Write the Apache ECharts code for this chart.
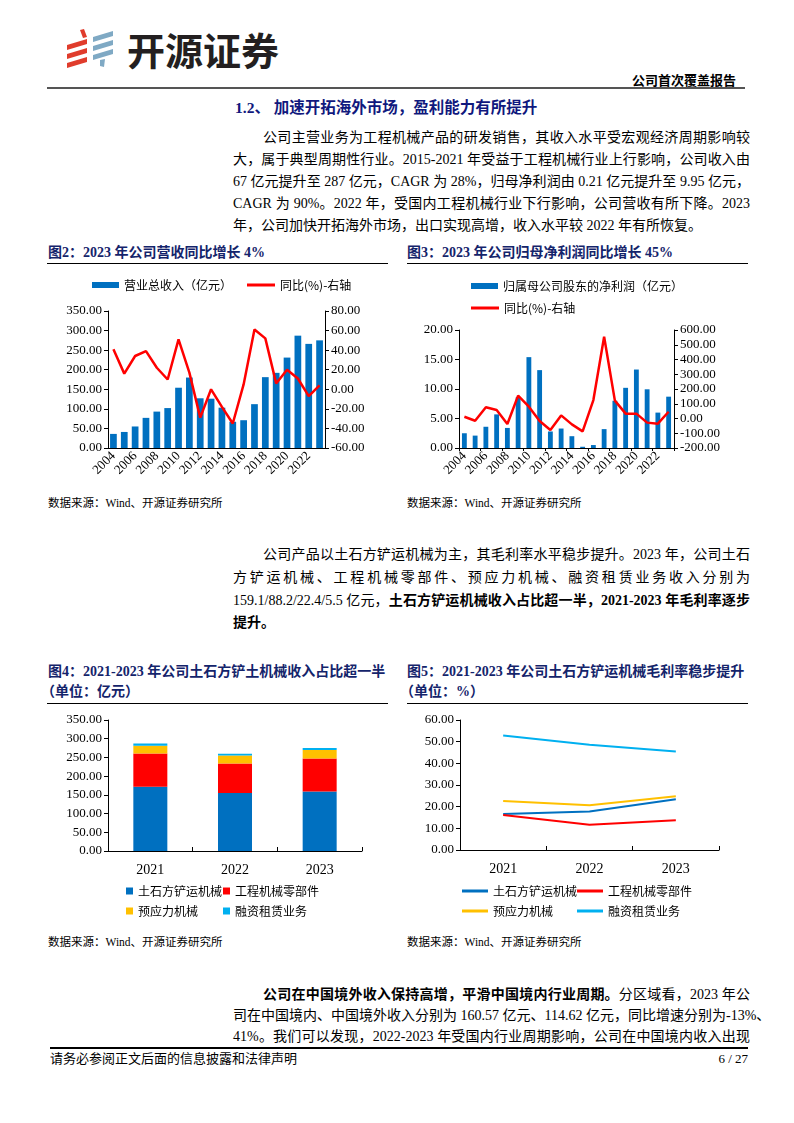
<!DOCTYPE html>
<html><head><meta charset="utf-8">
<script src="https://cdn.jsdelivr.net/npm/echarts/dist/echarts.min.js"></script>
<style>
body{margin:0;background:#fff;}
#page{position:relative;width:794px;height:1123px;overflow:hidden;background:#fff;}
.t{position:absolute;white-space:nowrap;font-family:"Liberation Serif","Noto Sans CJK SC",serif;color:#000;}
.ln{left:233px;width:517px;font-size:14px;height:22px;line-height:22px;text-align:justify;text-align-last:justify;}
.ind{left:263px;width:487px;}
.last{text-align:left;text-align-last:left;}
.ttl{font-size:14px;font-weight:bold;color:#14246b;height:20px;line-height:20px;}
.src{font-size:11.5px;height:16px;line-height:16px;}
.rule{position:absolute;background:#000;}
.chart{position:absolute;}
b{font-weight:bold;}
</style></head>
<body><div id="page">
<svg style="position:absolute;left:60px;top:26px" width="60" height="50" viewBox="60 26 60 50">
 <polygon points="80,30 84,29 87,37 83,38" fill="#e03c2c"/>
 <polygon points="67,45 87,39 87,44 67,50" fill="#e03c2c"/>
 <polygon points="67,54 87,48 87,53 67,59" fill="#e03c2c"/>
 <polygon points="67,63 87,57 87,62 67,68" fill="#e03c2c"/>
 <polygon points="93,37 113,31 113,36 93,42" fill="#7fa9c4"/>
 <polygon points="93,46 113,40 113,45 93,51" fill="#7fa9c4"/>
 <polygon points="93,55 113,49 113,54 93,60" fill="#7fa9c4"/>
 <polygon points="100,60 105,59 104,67 100,66" fill="#7fa9c4"/>
</svg>
<div class="t" style="left:127px;top:27px;font-size:38px;line-height:44px;font-family:'Noto Sans CJK SC',sans-serif;font-weight:bold;color:#231f20;">开源证券</div>
<div class="t" style="left:632px;top:72px;font-size:13px;line-height:18px;font-weight:bold;">公司首次覆盖报告</div>
<div class="rule" style="left:47px;top:87px;width:698px;height:2px;background:#555;"></div>

<div class="t" style="left:235px;top:97px;font-size:15.5px;line-height:22px;font-weight:bold;color:#10187d;">1.2、 加速开拓海外市场，盈利能力有所提升</div>

<div class="t ln ind" style="top:127px;">公司主营业务为工程机械产品的研发销售，其收入水平受宏观经济周期影响较</div>
<div class="t ln" style="top:149px;">大，属于典型周期性行业。2015-2021 年受益于工程机械行业上行影响，公司收入由</div>
<div class="t ln" style="top:171px;">67 亿元提升至 287 亿元，CAGR 为 28%，归母净利润由 0.21 亿元提升至 9.95 亿元，</div>
<div class="t ln" style="top:193px;">CAGR 为 90%。2022 年，受国内工程机械行业下行影响，公司营收有所下降。2023</div>
<div class="t ln last" style="top:215px;">年，公司加快开拓海外市场，出口实现高增，收入水平较 2022 年有所恢复。</div>

<div class="t ttl" style="left:48px;top:243px;">图2：2023 年公司营收同比增长 4%</div>
<div class="rule" style="left:47px;top:263px;width:341px;height:1px;"></div>
<div class="t ttl" style="left:407px;top:243px;">图3：2023 年公司归母净利润同比增长 45%</div>
<div class="rule" style="left:407px;top:263px;width:341px;height:1px;"></div>

<div id="c2" class="chart" style="left:40px;top:270px;width:350px;height:225px;"></div>
<div id="c3" class="chart" style="left:400px;top:270px;width:360px;height:225px;"></div>

<div class="t src" style="left:48px;top:495px;">数据来源：Wind、开源证券研究所</div>
<div class="t src" style="left:407px;top:495px;">数据来源：Wind、开源证券研究所</div>

<div class="t ln ind" style="top:544px;">公司产品以土石方铲运机械为主，其毛利率水平稳步提升。2023 年，公司土石</div>
<div class="t ln" style="top:567px;">方铲运机械、工程机械零部件、预应力机械、融资租赁业务收入分别为</div>
<div class="t ln" style="top:590px;">159.1/88.2/22.4/5.5 亿元，<b>土石方铲运机械收入占比超一半，2021-2023 年毛利率逐步</b></div>
<div class="t ln last" style="top:612px;"><b>提升。</b></div>

<div class="t ttl" style="left:48px;top:662px;">图4：2021-2023 年公司土石方铲土机械收入占比超一半</div>
<div class="t ttl" style="left:41px;top:682px;">（单位：亿元）</div>
<div class="rule" style="left:47px;top:703px;width:341px;height:1px;"></div>
<div class="t ttl" style="left:407px;top:662px;">图5：2021-2023 年公司土石方铲运机械毛利率稳步提升</div>
<div class="t ttl" style="left:400px;top:682px;">（单位：%）</div>
<div class="rule" style="left:407px;top:703px;width:341px;height:1px;"></div>

<div id="c4" class="chart" style="left:40px;top:705px;width:350px;height:225px;"></div>
<div id="c5" class="chart" style="left:400px;top:705px;width:360px;height:225px;"></div>

<div class="t src" style="left:48px;top:934px;">数据来源：Wind、开源证券研究所</div>
<div class="t src" style="left:407px;top:934px;">数据来源：Wind、开源证券研究所</div>

<div class="t ln ind" style="top:984px;"><b>公司在中国境外收入保持高增，平滑中国境内行业周期。</b>分区域看，2023 年公</div>
<div class="t ln" style="top:1005px;">司在中国境内、中国境外收入分别为 160.57 亿元、114.62 亿元，同比增速分别为-13%、</div>
<div class="t ln" style="top:1026px;">41%。我们可以发现，2022-2023 年受国内行业周期影响，公司在中国境内收入出现</div>

<div class="rule" style="left:50px;top:1047px;width:698px;height:1.5px;"></div>
<div class="t" style="left:50px;top:1050px;font-size:13px;line-height:18px;">请务必参阅正文后面的信息披露和法律声明</div>
<div class="t" style="left:698px;top:1050px;width:50px;text-align:right;font-size:13px;line-height:18px;">6 / 27</div>
</div>
<script>
// ---- data ----
const years = ['2004','2005','2006','2007','2008','2009','2010','2011','2012','2013','2014','2015','2016','2017','2018','2019','2020','2021','2022','2023'];
const revenue = [36,41,55,77,93,102,154,180,127,126,103,67,71,112,181,192,231,287,266,275];
const revenueYoY = [41,16,34,39,22,10,51,17,-29,0,-18,-35,5,61,52,6,20,11,-7,4];
const netProfit = [2.5,2.1,3.6,5.7,3.4,8.6,15.4,13.2,2.8,3.3,2.0,0.21,0.5,3.2,8.0,10.2,13.3,9.95,6.0,8.7];
const netProfitYoY = [12,-15,76,58,-37,155,80,-17,-78,21,-40,-87,125,554,121,33,33,-28,-35,46];
const segYears = ['2021','2022','2023'];
const earthmoving = [171.5,155,159.1];
const parts = [89,79,88.2];
const prestress = [21,21,22.4];
const leasing = [5.5,5,5.5];
const gmEarthmoving = [16.6,17.8,23.4];
const gmParts = [16.2,11.7,13.7];
const gmPrestress = [22.6,20.6,24.8];
const gmLeasing = [52.8,48.6,45.5];

const BLUE='#0070C0', RED='#FF0000', YEL='#FFC000', CYAN='#00B0F0';
const axisText = {fontFamily:'Liberation Serif', fontSize:13, color:'#000'};
const legText = {fontFamily:'Noto Sans CJK SC', fontSize:12, color:'#000'};
const fmt2 = v => v.toFixed(2);
const axLine = {show:true, lineStyle:{color:'#000', width:1}};
function valAxis(min,max,interval,extra){
  return Object.assign({type:'value',min:min,max:max,interval:interval,axisLine:axLine,
    axisTick:{show:true,length:4,lineStyle:{color:'#000'}},splitLine:{show:false},
    axisLabel:Object.assign({formatter:fmt2,margin:6},axisText)},extra||{});
}

const c2 = echarts.init(document.getElementById('c2'));
c2.setOption({
  animation:false,
  grid:{left:68,right:65,top:41,bottom:47},
  legend:[
    {data:['营业总收入（亿元）'],left:47,top:4,icon:'rect',itemWidth:27,itemHeight:6,textStyle:legText},
    {data:['同比(%)-右轴'],left:202,top:4,icon:'rect',itemWidth:28,itemHeight:3,textStyle:legText}
  ],
  xAxis:{type:'category',data:years,axisLine:axLine,axisTick:{show:false},
    axisLabel:Object.assign({rotate:45,interval:1,margin:6},axisText)},
  yAxis:[valAxis(0,350,50),valAxis(-60,80,20,{position:'right'})],
  series:[
    {name:'营业总收入（亿元）',type:'bar',data:revenue,barWidth:'62%',itemStyle:{color:BLUE}},
    {name:'同比(%)-右轴',type:'line',yAxisIndex:1,data:revenueYoY,symbol:'none',
      lineStyle:{color:RED,width:2.5},itemStyle:{color:RED}}
  ]
});

const c3 = echarts.init(document.getElementById('c3'));
c3.setOption({
  animation:false,
  grid:{left:59,right:86,top:60,bottom:47},
  legend:[
    {data:['归属母公司股东的净利润（亿元）'],left:66,top:5,icon:'rect',itemWidth:27,itemHeight:6,textStyle:legText},
    {data:['同比(%)-右轴'],left:66,top:27,icon:'rect',itemWidth:28,itemHeight:3,textStyle:legText}
  ],
  xAxis:{type:'category',data:years,axisLine:axLine,axisTick:{show:true,length:3,lineStyle:{color:'#000'}},
    axisLabel:Object.assign({rotate:45,interval:1,margin:6},axisText)},
  yAxis:[valAxis(0,20,5),valAxis(-200,600,100,{position:'right'})],
  series:[
    {name:'归属母公司股东的净利润（亿元）',type:'bar',data:netProfit,barWidth:'45%',itemStyle:{color:BLUE}},
    {name:'同比(%)-右轴',type:'line',yAxisIndex:1,data:netProfitYoY,symbol:'none',
      lineStyle:{color:RED,width:2.5},itemStyle:{color:RED}}
  ]
});

const segNames = ['土石方铲运机械','工程机械零部件','预应力机械','融资租赁业务'];
const segXAxis = {type:'category',data:segYears,axisLine:axLine,
  axisTick:{show:true,inside:true,length:4,lineStyle:{color:'#000'}},
  axisLabel:Object.assign({margin:12},axisText,{fontSize:14})};
function legends(lefts,iconOpts){
  const tops=[175,175,195,195];
  return segNames.map((n,i)=>Object.assign({data:[n],left:lefts[i],top:tops[i],textStyle:legText},iconOpts));
}
const c4 = echarts.init(document.getElementById('c4'));
c4.setOption({
  animation:false,
  grid:{left:68,right:28,top:15,bottom:79},
  legend:legends([81,178,81,178],{icon:'rect',itemWidth:7,itemHeight:7}),
  xAxis:segXAxis,
  yAxis:valAxis(0,350,50),
  series:[
    {name:segNames[0],type:'bar',stack:'s',data:earthmoving,barWidth:34,itemStyle:{color:BLUE}},
    {name:segNames[1],type:'bar',stack:'s',data:parts,itemStyle:{color:RED}},
    {name:segNames[2],type:'bar',stack:'s',data:prestress,itemStyle:{color:YEL}},
    {name:segNames[3],type:'bar',stack:'s',data:leasing,itemStyle:{color:CYAN}}
  ]
});

const c5 = echarts.init(document.getElementById('c5'));
const lineSer = (n,d,c)=>({name:n,type:'line',data:d,symbol:'none',lineStyle:{color:c,width:2},itemStyle:{color:c}});
c5.setOption({
  animation:false,
  grid:{left:60,right:41,top:15,bottom:80},
  legend:legends([57,172,57,172],{icon:'rect',itemWidth:26,itemHeight:3}),
  xAxis:segXAxis,
  yAxis:valAxis(0,60,10),
  series:[
    lineSer(segNames[0],gmEarthmoving,BLUE),
    lineSer(segNames[1],gmParts,RED),
    lineSer(segNames[2],gmPrestress,YEL),
    lineSer(segNames[3],gmLeasing,CYAN)
  ]
});
</script>
</body></html>
